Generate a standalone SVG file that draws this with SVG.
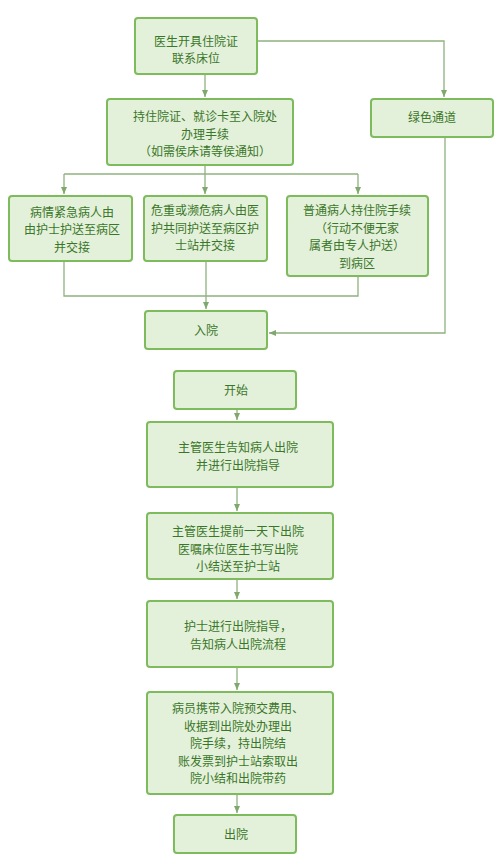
<svg xmlns="http://www.w3.org/2000/svg" width="500" height="860" viewBox="0 0 500 860">
<defs>
<style>
.box{fill:#e4f1da;stroke:#7dbb5c;stroke-width:2}
.t{font-family:"Noto Sans CJK SC","Noto Sans",sans-serif;font-size:12px;fill:#3a7629;text-anchor:middle}
.c{fill:none;stroke:#8fb27e;stroke-width:1.3}
</style>
<marker id="ar" markerWidth="8" markerHeight="8" refX="7" refY="4" orient="auto" markerUnits="userSpaceOnUse">
<path d="M0,1 L7,4 L0,7 Z" fill="#7fa86d"/>
</marker>
</defs>
<rect width="500" height="860" fill="#ffffff"/>
<g id="connectors">
<path class="c" d="M205,74 V97" marker-end="url(#ar)"/>
<path class="c" d="M257,41 H444 V97" marker-end="url(#ar)"/>
<path class="c" d="M205,165 V174"/>
<path class="c" d="M64,174 H358"/>
<path class="c" d="M64,174 V194" marker-end="url(#ar)"/>
<path class="c" d="M205,174 V194" marker-end="url(#ar)"/>
<path class="c" d="M358,174 V194" marker-end="url(#ar)"/>
<path class="c" d="M64,261 V296 H358 V276"/>
<path class="c" d="M206,261 V309" marker-end="url(#ar)"/>
<path class="c" d="M445,137 V333 H269" marker-end="url(#ar)"/>
<path class="c" d="M237,409 V420" marker-end="url(#ar)"/>
<path class="c" d="M237,487 V511" marker-end="url(#ar)"/>
<path class="c" d="M237,579 V599" marker-end="url(#ar)"/>
<path class="c" d="M237,667 V690" marker-end="url(#ar)"/>
<path class="c" d="M237,794 V813" marker-end="url(#ar)"/>
</g>
<g id="n1"><rect class="box" x="135" y="18" width="122" height="56" rx="3"/>
<text class="t" x="196" y="45.5">医生开具住院证</text><text class="t" x="196" y="63">联系床位</text></g>
<g id="n2"><rect class="box" x="107" y="99" width="186" height="66" rx="3"/>
<text class="t" x="205" y="121">持住院证、就诊卡至入院处</text><text class="t" x="205" y="138.5">办理手续</text><text class="t" x="205" y="156">（如需侯床请等侯通知）</text></g>
<g id="n3"><rect class="box" x="371" y="99" width="122" height="38" rx="3"/>
<text class="t" x="432" y="122">绿色通道</text></g>
<g id="n4"><rect class="box" x="9" y="196" width="123" height="65" rx="3"/>
<text class="t" x="72" y="216.5">病情紧急病人由</text><text class="t" x="72" y="234">由护士护送至病区</text><text class="t" x="72" y="251.5">并交接</text></g>
<g id="n5"><rect class="box" x="144" y="196" width="123" height="65" rx="3"/>
<text class="t" x="205" y="215">危重或濒危病人由医</text><text class="t" x="205" y="232.5">护共同护送至病区护</text><text class="t" x="205" y="250">士站并交接</text></g>
<g id="n6"><rect class="box" x="287" y="196" width="141" height="80" rx="3"/>
<text class="t" x="357" y="215">普通病人持住院手续</text><text class="t" x="357" y="232.5">（行动不便无家</text><text class="t" x="357" y="250">属者由专人护送）</text><text class="t" x="357" y="267.5">到病区</text></g>
<g id="n7"><rect class="box" x="145" y="311" width="122" height="38" rx="3"/>
<text class="t" x="206" y="335">入院</text></g>
<g id="n8"><rect class="box" x="174" y="371" width="122" height="38" rx="3"/>
<text class="t" x="236" y="395">开始</text></g>
<g id="n9"><rect class="box" x="147" y="422" width="186" height="65" rx="3"/>
<text class="t" x="238" y="452">主管医生告知病人出院</text><text class="t" x="238" y="469.5">并进行出院指导</text></g>
<g id="n10"><rect class="box" x="147" y="513" width="186" height="66" rx="3"/>
<text class="t" x="238" y="536">主管医生提前一天下出院</text><text class="t" x="238" y="553.5">医嘱床位医生书写出院</text><text class="t" x="238" y="571">小结送至护士站</text></g>
<g id="n11"><rect class="box" x="147" y="601" width="186" height="66" rx="3"/>
<text class="t" x="238" y="631">护士进行出院指导，</text><text class="t" x="238" y="648.5">告知病人出院流程</text></g>
<g id="n12"><rect class="box" x="147" y="692" width="186" height="102" rx="3"/>
<text class="t" x="238" y="713">病员携带入院预交费用、</text><text class="t" x="238" y="730.5">收据到出院处办理出</text><text class="t" x="238" y="748">院手续，持出院结</text><text class="t" x="238" y="765.5">账发票到护士站索取出</text><text class="t" x="238" y="783">院小结和出院带药</text></g>
<g id="n13"><rect class="box" x="174" y="815" width="122" height="38" rx="3"/>
<text class="t" x="236" y="839">出院</text></g>
</svg>
